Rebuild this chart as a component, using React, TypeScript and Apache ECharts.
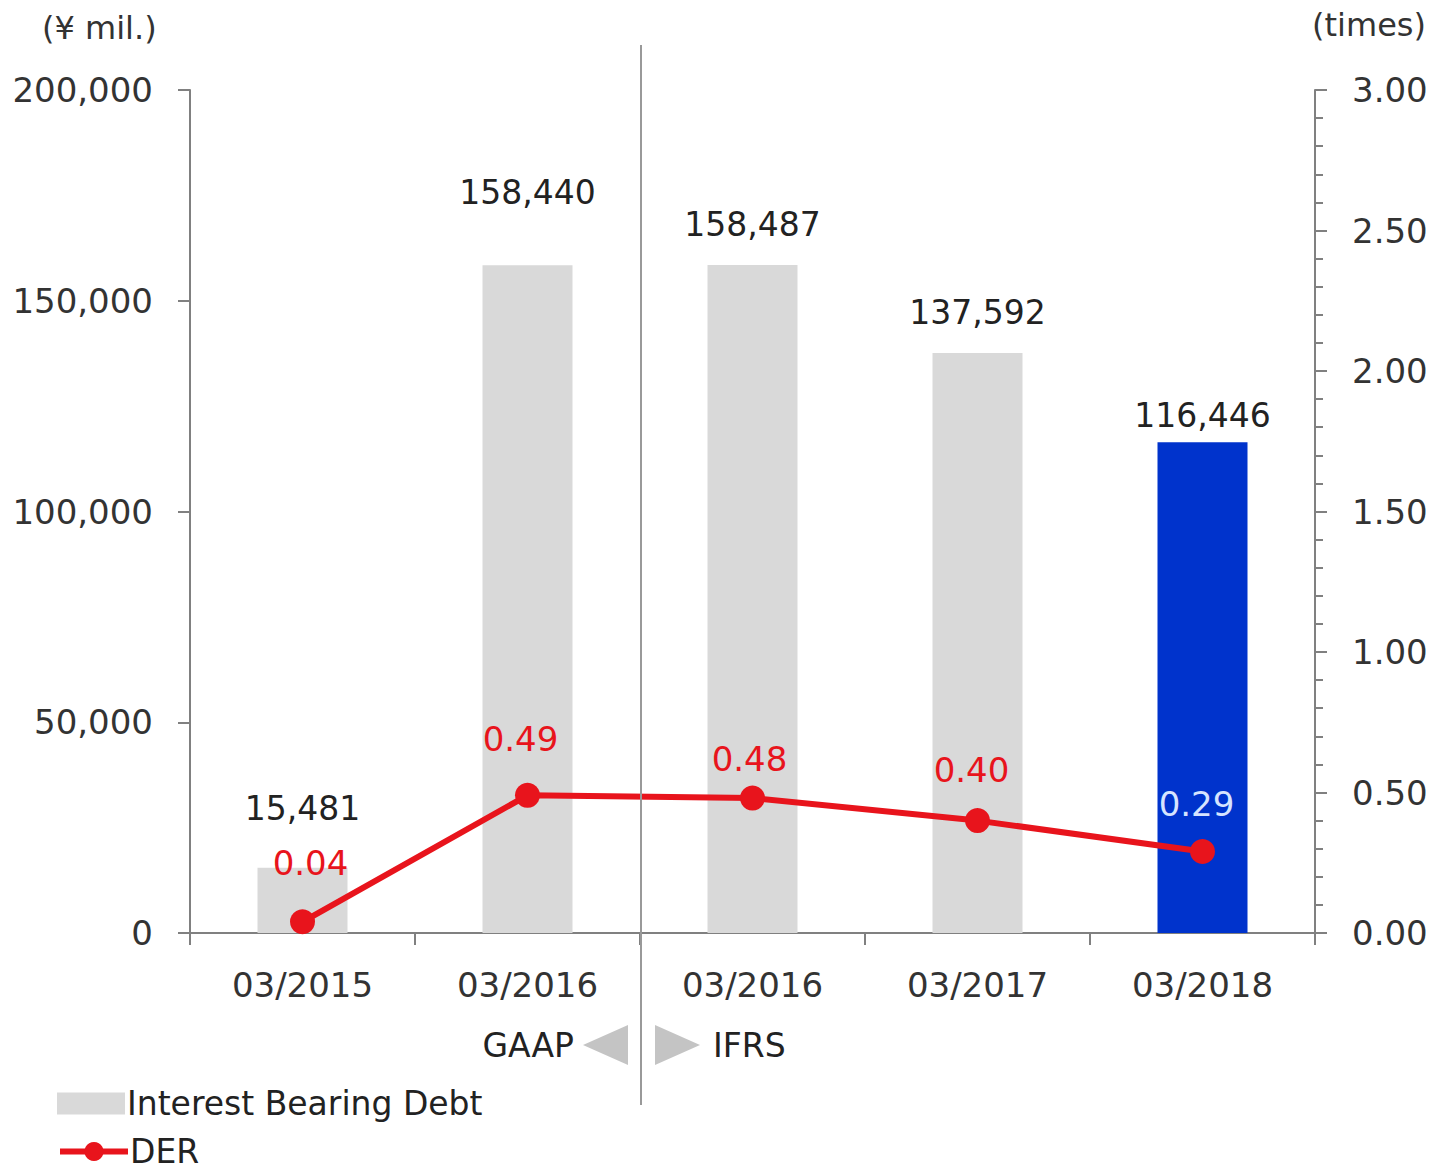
import React, { useEffect, useRef } from "react";
import * as echarts from "echarts";

const categories = ["03/2015", "03/2016", "03/2016", "03/2017", "03/2018"];
const debtValues = [15481, 158440, 158487, 137592, 116446];
const derValues = [0.04, 0.49, 0.48, 0.4, 0.29];
const leftTicks = [0, 50000, 100000, 150000, 200000];
const rightTicks = [0, 0.5, 1, 1.5, 2, 2.5, 3];

const FONT = "DejaVu Sans";
const GRAY_BAR = "#d9d9d9";
const BLUE_BAR = "#0033cc";
const RED = "#e8141c";

const debtLabelDist = [43, 56, 24, 24, 10];
const derLabelDist = [29, 27, 10, 21, 18];
const derLabelDx = [8, -7, -3, -6, -6];

export default function App() {
  const ref = useRef<HTMLDivElement>(null);
  useEffect(() => {
    if (!ref.current) return;
    const chart = echarts.init(ref.current, undefined, { renderer: "svg" });
    const axisLineStyle = { color: "#808080", width: 2 };
    const legendText = { fontFamily: FONT, fontSize: 33, color: "#222", lineHeight: 30, padding: [0, 0, 0, -3] };
    chart.setOption({
      animation: false,
      backgroundColor: "#ffffff",
      textStyle: { fontFamily: FONT },
      grid: { left: 190, right: 125, top: 90, bottom: 243, containLabel: false },
      legend: [
        {
          orient: "vertical",
          left: 52,
          top: 1082,
          itemWidth: 68,
          itemHeight: 22,
          textStyle: legendText,
          data: [{ name: "Interest Bearing Debt", icon: "rect", itemStyle: { color: GRAY_BAR } }],
        },
        {
          orient: "vertical",
          left: 52,
          top: 1130,
          itemWidth: 68,
          itemHeight: 24,
          textStyle: legendText,
          data: [{ name: "DER", lineStyle: { width: 6, color: RED }, itemStyle: { color: RED } }],
        },
      ],
      xAxis: {
        type: "category",
        data: categories,
        axisLine: { lineStyle: axisLineStyle },
        axisTick: { show: true, length: 12, lineStyle: axisLineStyle },
        axisLabel: { fontFamily: FONT, fontSize: 34, color: "#333", margin: 35 },
      },
      yAxis: [
        {
          type: "value",
          min: leftTicks[0],
          max: leftTicks[leftTicks.length - 1],
          interval: leftTicks[1] - leftTicks[0],
          axisLine: { show: true, lineStyle: axisLineStyle },
          axisTick: { show: true, length: 12, lineStyle: axisLineStyle },
          splitLine: { show: false },
          axisLabel: {
            fontFamily: FONT,
            fontSize: 34,
            color: "#333",
            margin: 37,
            formatter: (v: number) => v.toLocaleString("en-US"),
          },
        },
        {
          type: "value",
          position: "right",
          min: rightTicks[0],
          max: rightTicks[rightTicks.length - 1],
          interval: rightTicks[1] - rightTicks[0],
          axisLine: { show: true, lineStyle: axisLineStyle },
          axisTick: { show: true, length: 12, lineStyle: axisLineStyle },
          minorTick: { show: true, splitNumber: 5, length: 8, lineStyle: { color: "#808080", width: 2 } },
          splitLine: { show: false },
          axisLabel: {
            fontFamily: FONT,
            fontSize: 34,
            color: "#333",
            margin: 37,
            formatter: (v: number) => v.toFixed(2),
          },
        },
      ],
      series: [
        {
          name: "Interest Bearing Debt",
          type: "bar",
          yAxisIndex: 0,
          barWidth: 90,
          itemStyle: { color: GRAY_BAR },
          data: debtValues.map((v, i) => ({
            value: v,
            itemStyle: { color: i === debtValues.length - 1 ? BLUE_BAR : GRAY_BAR },
            label: {
              show: true,
              position: "top",
              distance: debtLabelDist[i],
              fontFamily: FONT,
              fontSize: 33,
              color: "#222",
              formatter: (p: any) => Number(p.value).toLocaleString("en-US"),
            },
          })),
        },
        {
          name: "DER",
          type: "line",
          yAxisIndex: 1,
          symbol: "circle",
          symbolSize: 25,
          lineStyle: { color: RED, width: 6 },
          itemStyle: { color: RED },
          data: derValues.map((v, i) => ({
            value: v,
            label: {
              show: true,
              position: "top",
              distance: derLabelDist[i],
              offset: [derLabelDx[i], 0],
              fontFamily: FONT,
              fontSize: 34,
              color: i === derValues.length - 1 ? "#d6e4ff" : RED,
              formatter: (p: any) => Number(p.value).toFixed(2),
            },
          })),
          z: 5,
        },
      ],
      graphic: [
        {
          type: "text",
          left: 42,
          top: 12,
          style: { text: "(¥ mil.)", fontFamily: FONT, fontSize: 32, fill: "#333" },
        },
        {
          type: "text",
          right: 14,
          top: 9,
          style: { text: "(times)", fontFamily: FONT, fontSize: 32, fill: "#333" },
        },
        {
          type: "line",
          shape: { x1: 641, y1: 45, x2: 641, y2: 1105 },
          style: { stroke: "#999999", lineWidth: 2 },
          z: 10,
        },
        {
          type: "polygon",
          shape: { points: [[628, 1025], [628, 1065], [583, 1045]] },
          style: { fill: "#c4c4c4" },
        },
        {
          type: "polygon",
          shape: { points: [[655, 1025], [655, 1065], [700, 1045]] },
          style: { fill: "#c4c4c4" },
        },
        {
          type: "text",
          x: 574,
          y: 1045,
          style: { text: "GAAP", fontFamily: FONT, fontSize: 33, fill: "#222", align: "right", verticalAlign: "middle" },
        },
        {
          type: "text",
          x: 713,
          y: 1045,
          style: { text: "IFRS", fontFamily: FONT, fontSize: 33, fill: "#222", align: "left", verticalAlign: "middle" },
        },
      ],
    });
    return () => chart.dispose();
  }, []);
  return (
    <div
      ref={ref}
      style={{ position: "absolute", left: 0, top: 0, width: 1440, height: 1176, background: "#fff" }}
    />
  );
}
